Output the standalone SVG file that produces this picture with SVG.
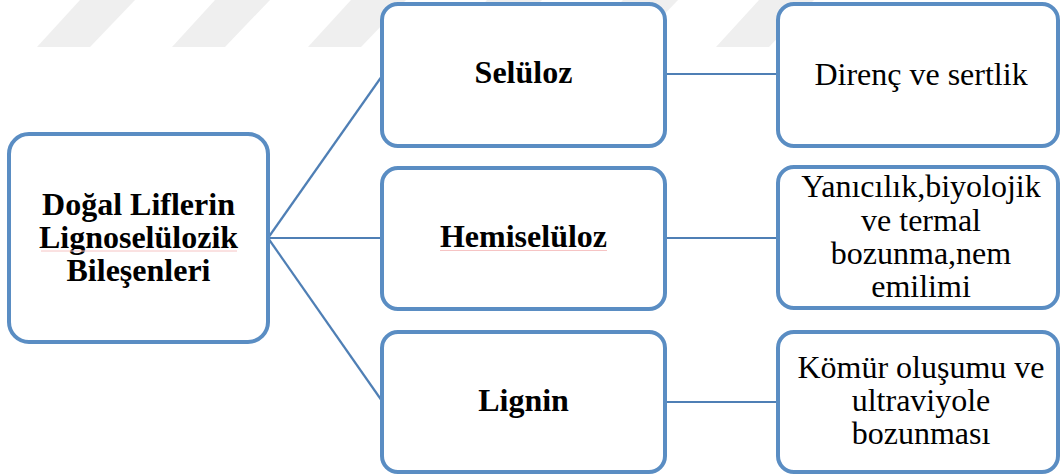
<svg xmlns="http://www.w3.org/2000/svg" width="1060" height="474" viewBox="0 0 1060 474">
<style>
.box{fill:#fff;stroke:#5A8DC3;stroke-width:4}
.conn{stroke:#4F7FB5;stroke-width:2.2;fill:none}
.wm{fill:#EFEFEF}
text{font-family:"Liberation Serif","Times New Roman",serif;font-size:32px;fill:#000;text-anchor:middle}
.b{font-weight:bold}
.spell{stroke:#F6C4C4;stroke-width:1}
</style>
<rect width="1060" height="474" fill="#fff"/>
<g id="watermark">
<polygon class="wm" points="37,47 90,47 135,0 80,0"/>
<polygon class="wm" points="172,47 225,47 270,0 215,0"/>
<polygon class="wm" points="308,47 361,47 406,0 351,0"/>
<polygon class="wm" points="444,47 497,47 542,0 487,0"/>
<polygon class="wm" points="580,47 633,47 678,0 623,0"/>
<polygon class="wm" points="716,47 769,47 814,0 759,0"/>
</g>
<g id="connectors">
<line class="conn" x1="268" y1="238" x2="382" y2="76"/>
<line class="conn" x1="268" y1="238" x2="382" y2="238"/>
<line class="conn" x1="268" y1="238" x2="382" y2="401"/>
<line class="conn" x1="665" y1="74" x2="778" y2="74"/>
<line class="conn" x1="665" y1="238" x2="778" y2="238"/>
<line class="conn" x1="665" y1="402" x2="778" y2="402"/>
</g>
<g id="root">
<rect class="box" x="9" y="134" width="259" height="208" rx="20"/>
<text class="b" x="138.5" y="215">Doğal Liflerin</text>
<text class="b" x="138.5" y="248">Lignoselülozik</text>
<line class="spell" x1="41" y1="251" x2="237" y2="251"/>
<text class="b" x="138.5" y="281">Bileşenleri</text>
</g>
<g id="seluloz">
<rect class="box" x="382" y="4" width="283" height="142" rx="16"/>
<text class="b" x="523.5" y="83">Selüloz</text>
</g>
<g id="hemiseluloz">
<rect class="box" x="382" y="168" width="283" height="141" rx="16"/>
<text class="b" x="523.5" y="247">Hemiselüloz</text>
<line class="spell" x1="440" y1="250.5" x2="607" y2="250.5"/>
</g>
<g id="lignin">
<rect class="box" x="382" y="332" width="283" height="140" rx="16"/>
<text class="b" x="523.5" y="411">Lignin</text>
</g>
<g id="direnc">
<rect class="box" x="778" y="4" width="280" height="142" rx="16"/>
<text x="921" y="85">Direnç ve sertlik</text>
</g>
<g id="yanicilik">
<rect class="box" x="778" y="167" width="280" height="141" rx="16"/>
<text x="921" y="197">Yanıcılık,biyolojik</text>
<text x="921" y="231">ve termal</text>
<text x="921" y="264">bozunma,nem</text>
<text x="921" y="297">emilimi</text>
</g>
<g id="komur">
<rect class="box" x="778" y="332" width="280" height="140" rx="16"/>
<text x="921" y="378">Kömür oluşumu ve</text>
<text x="921" y="411">ultraviyole</text>
<text x="921" y="444">bozunması</text>
</g>
</svg>
